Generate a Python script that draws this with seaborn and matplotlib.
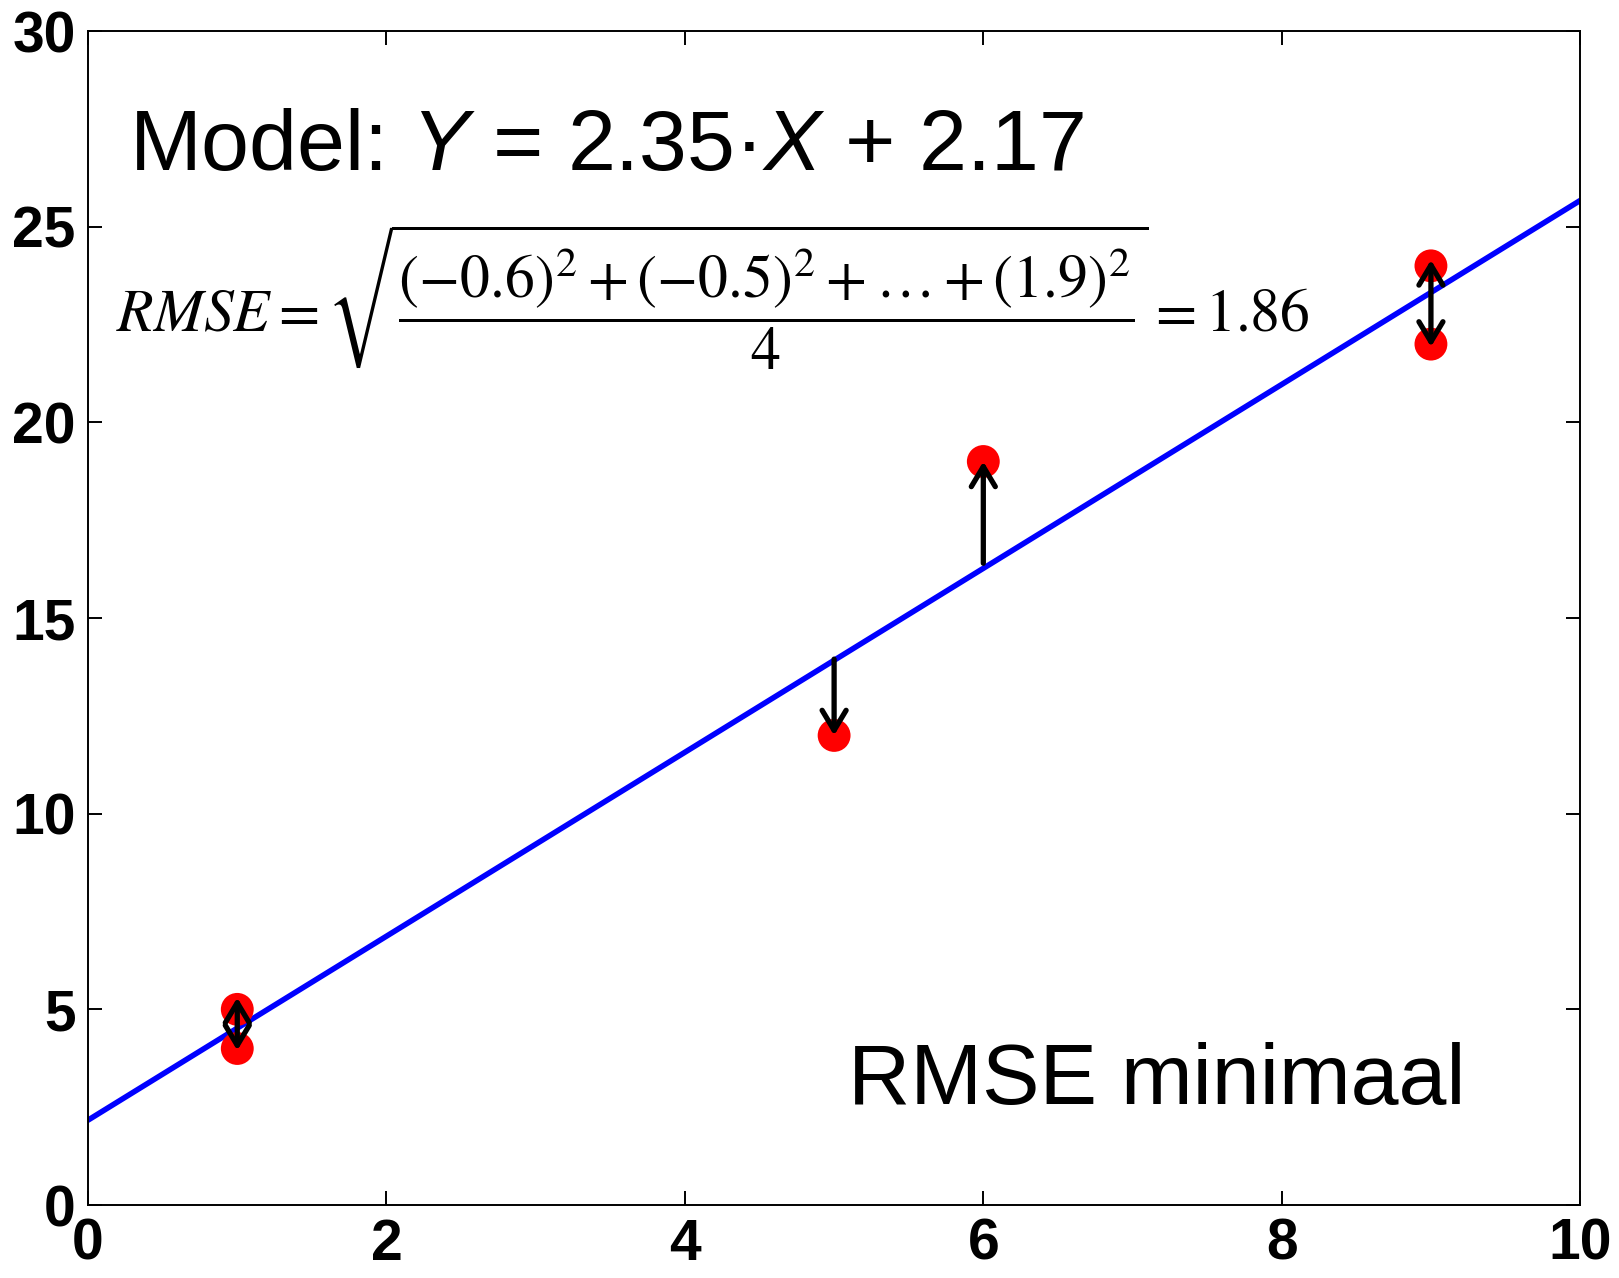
import matplotlib
matplotlib.use("Agg")
import matplotlib.pyplot as plt
import seaborn as sns
import numpy as np
import pandas as pd

# data
point_x = [1, 1, 5, 6, 9, 9]
point_y = [5, 4, 12, 19, 24, 22]
slope = 2.35
intercept = 2.17
line_x = [0, 10]
x_ticks = [0, 2, 4, 6, 8, 10]
y_ticks = [0, 5, 10, 15, 20, 25, 30]
# arrows: x, start y, end y, style
arrow_x = [1, 5, 6, 9]
arrow_from = [3.95, 13.95, 16.4, 21.93]
arrow_to = [5.3, 12, 19, 24.15]
arrow_style = ['<->', '->', '->', '<->']

title_text = r'Model: $\mathit{Y}$ = 2.35·$\mathit{X}$ + 2.17'
rmse_text = r'$RMSE = \sqrt{\dfrac{(-0.6)^2 + (-0.5)^2 + \ldots + (1.9)^2}{4}} = 1.86$'
note_text = 'RMSE minimaal'

sns.set_theme(style='ticks')
plt.rcParams['font.family'] = ['Liberation Sans', 'DejaVu Sans']
plt.rcParams['mathtext.fontset'] = 'custom'
plt.rcParams['mathtext.rm'] = 'Liberation Sans'
plt.rcParams['mathtext.it'] = 'Liberation Sans:italic'
plt.rcParams['mathtext.bf'] = 'Liberation Sans:bold'

fig = plt.figure(figsize=(16.19, 12.78), dpi=100)
ax = fig.add_axes([0.0544, 0.0571, 0.9216, 0.9186])

line_df = pd.DataFrame({'x': line_x, 'y': [slope * v + intercept for v in line_x]})
sns.lineplot(data=line_df, x='x', y='y', ax=ax, color='#0000ff', lw=4, zorder=2)

pts = pd.DataFrame({'x': point_x, 'y': point_y})
sns.scatterplot(data=pts, x='x', y='y', ax=ax, color='#ff0000', s=560,
                edgecolor='none', zorder=3)

for xv, y0, y1, st in zip(arrow_x, arrow_from, arrow_to, arrow_style):
    ax.annotate('', xy=(xv, y1), xytext=(xv, y0),
                arrowprops=dict(arrowstyle=st + ',head_length=0.6,head_width=0.36',
                                color='black', lw=3.8, shrinkA=0, shrinkB=0,
                                mutation_scale=24, capstyle='round',
                                joinstyle='round'),
                zorder=4)

ax.set_xlim(0, 10)
ax.set_ylim(0, 30)
ax.set_xticks(x_ticks)
ax.set_yticks(y_ticks)
ax.set_xticklabels([str(v) for v in x_ticks])
ax.set_yticklabels([str(v) for v in y_ticks])
ax.set_xlabel('')
ax.set_ylabel('')
for lab in ax.get_xticklabels() + ax.get_yticklabels():
    lab.set_fontweight('bold')
    lab.set_fontsize(41)
ax.tick_params(axis='both', direction='in', length=10, width=1.4, color='black',
               top=True, right=True, labelcolor='black')
ax.tick_params(axis='x', pad=9)
ax.tick_params(axis='y', pad=9)
for sp in ax.spines.values():
    sp.set_visible(True)
    sp.set_color('black')
    sp.set_linewidth(1.4)

ax.text(0.275, 26.45, title_text, fontsize=62, va='baseline', ha='left',
        math_fontfamily='custom', color='black')
ax.text(0.19, 23.2, rmse_text, fontsize=43, va='center', ha='left',
        math_fontfamily='stix', color='black')
ax.text(9.23, 2.58, note_text, fontsize=62, va='baseline', ha='right', color='black')

fig.savefig('out.png', dpi=100)
